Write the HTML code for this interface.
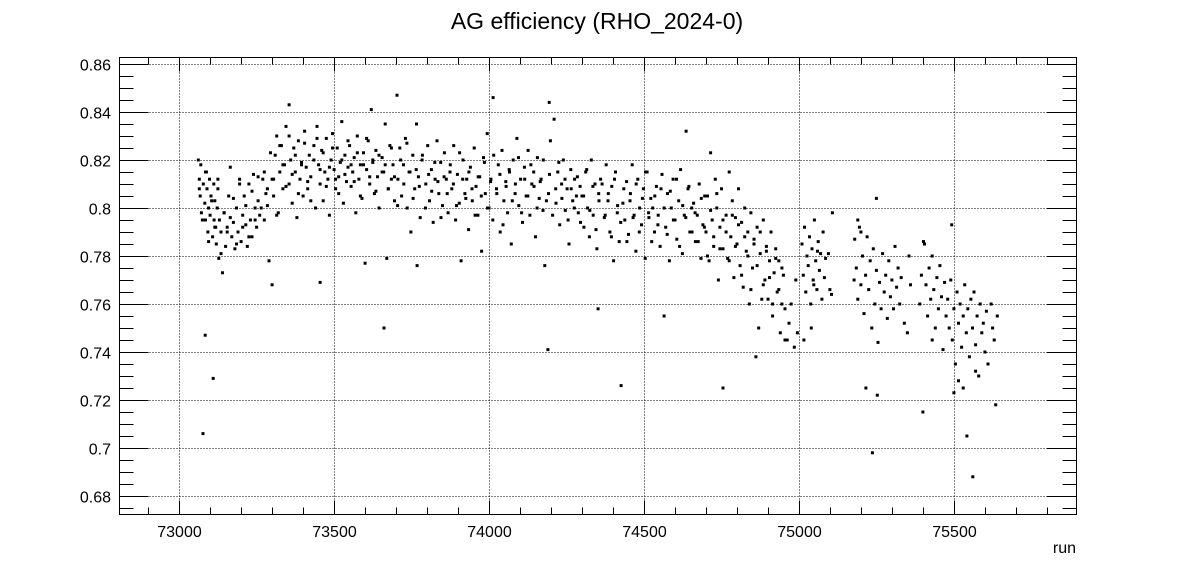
<!DOCTYPE html>
<html><head><meta charset="utf-8"><style>
html,body{margin:0;padding:0;background:#fff;}
svg{display:block;font-family:"Liberation Sans",Arial,sans-serif;}
</style></head><body>
<svg id="chart" width="1196" height="572" viewBox="0 0 1196 572">
<text x="597" y="29" font-size="23" text-anchor="middle">AG efficiency (RHO_2024-0)</text>
<g id="grid"></g>
<g id="points"></g>
<g id="axes"></g>
<rect x="119.5" y="57.5" width="957" height="457" fill="none" stroke="#000" stroke-width="1"/>
<text x="1076" y="553" font-size="16" text-anchor="end">run</text>
</svg>
<script>
const xTicks=[73000,73500,74000,74500,75000,75500];
const yTicks=[0.68,0.70,0.72,0.74,0.76,0.78,0.80,0.82,0.84,0.86];
const yTickLabels=["0.68","0.7","0.72","0.74","0.76","0.78","0.8","0.82","0.84","0.86"];
const runs=[
73062,73065,73068,73070,73072,73077,73078,73084,73083,73085,73088,73090,73093,73095,73098,73100,73103,73110,73108,73112,
73113,73115,73118,73120,73123,73125,73128,73130,73135,73140,73145,73150,73155,73160,73165,73170,73175,73180,73185,73190,
73195,73200,73205,73210,73215,73220,73225,73230,73235,73240,73245,73250,73255,73260,73300,73270,73275,73280,73285,73290,
73300,73305,73310,73315,73320,73325,73330,73335,73340,73345,73355,73355,73360,73365,73370,73375,73380,73385,73390,73395,
73400,73405,73410,73415,73420,73425,73455,73435,73440,73445,73450,73455,73460,73465,73470,73475,73480,73485,73490,73495,
73500,73505,73510,73515,73520,73525,73530,73535,73540,73545,73550,73555,73560,73565,73570,73575,73580,73585,73590,73595,
73600,73605,73610,73615,73620,73625,73630,73635,73640,73645,73661,73655,73660,73665,73670,73675,73680,73685,73690,73695,
73703,73706,73712,73718,73724,73730,73736,73742,73748,73754,73760,73766,73772,73778,73784,73768,73796,73802,73808,73814,
73820,73826,73832,73838,73844,73850,73856,73862,73868,73874,73880,73886,73892,73898,73904,73910,73916,73922,73928,73934,
73940,73946,73952,73958,73964,73970,73976,73982,73988,73994,74000,74006,74012,74013,74024,74030,74036,74042,74048,74054,
74060,74066,74072,74078,74084,74090,74096,74102,74108,74114,74120,74126,74132,74138,74144,74150,74156,74162,74168,74174,
74180,74190,74192,74198,74194,74210,74216,74222,74228,74234,74240,74246,74252,74258,74264,74270,74276,74282,74288,74294,
74300,74306,74312,74318,74324,74330,74336,74342,74348,74354,74360,74352,74372,74378,74384,74390,74396,74402,74408,74414,
74420,74426,74432,74438,74444,74450,74456,74462,74468,74474,74480,74486,74492,74498,74504,74510,74516,74522,74528,74534,
74540,74546,74552,74558,74565,74570,74576,74582,74588,74594,74600,74606,74612,74618,74624,74630,74636,74642,74648,74654,
74660,74666,74672,74678,74684,74690,74696,
74700,74705,74710,74715,74720,74725,74730,74735,74740,74745,74750,74755,74755,74765,74770,74775,74780,74785,74790,74795,
74800,74805,74810,74815,74820,74825,74830,74835,74840,74845,74850,74855,74861,74865,74870,74875,74880,74885,74890,74895,
74900,74905,74910,74915,74920,74925,74930,74935,74940,74945,74950,74955,
74962,74968,74975,74985,74990,74995,
75010,75014,75018,75022,75026,75030,75034,75038,75042,75046,75050,75054,75058,75062,75066,75070,75074,75078,75082,75086,
75016,75040,75060,75048,75095,75100,75105,75108,
75180,75185,75190,75195,75200,75205,75210,75215,75220,75225,75230,75235,75240,75245,75250,75255,75260,75265,75270,75275,
75280,75285,75290,75295,75300,75305,75310,75315,75320,75325,75330,75340,75350,75355,75360,75216,75237,75253,75250,75190,
75200,75178,
75390,75395,75400,75405,75410,75415,75420,75425,75430,75435,75440,75445,75450,75455,75460,75465,75470,75475,75402,75430,
75480,75485,75490,75495,75500,75505,75510,75515,75520,75525,75530,75535,75540,75545,75550,75555,75560,75565,75570,75575,
75580,75585,75590,75595,75600,75605,75610,75620,75625,75630,75635,75640,75542,75561,75500,75515,75530,75493,75570
];
const eff=[
.820,.812,.805,.818,.798,.706,.810,.747,.802,.795,.815,.808,.790,.800,.812,.797,.805,.729,.788,.810,
.795,.803,.792,.785,.800,.808,.779,.795,.790,.773,.798,.784,.792,.805,.817,.788,.794,.783,.800,.790,
.812,.786,.797,.805,.793,.784,.810,.795,.788,.814,.800,.792,.803,.797,.768,.812,.795,.806,.801,.778,
.812,.805,.822,.830,.798,.815,.826,.808,.818,.834,.843,.810,.820,.802,.825,.815,.796,.828,.812,.819,
.805,.832,.817,.808,.822,.813,.769,.826,.800,.834,.818,.810,.824,.803,.815,.829,.812,.797,.820,.831,
.816,.808,.825,.813,.819,.836,.802,.822,.811,.817,.826,.809,.815,.821,.798,.830,.812,.818,.804,.823,
.777,.816,.828,.810,.841,.819,.806,.824,.813,.800,.750,.821,.815,.835,.779,.808,.826,.812,.818,.803,
.847,.812,.825,.805,.818,.829,.800,.815,.790,.822,.808,.835,.813,.796,.820,.776,.810,.826,.803,.816,
.794,.812,.828,.806,.819,.801,.823,.812,.798,.815,.808,.826,.795,.814,.802,.778,.820,.806,.812,.791,
.817,.803,.825,.809,.797,.813,.782,.821,.806,.831,.800,.812,.795,.846,.808,.818,.790,.824,.803,.811,
.798,.815,.785,.820,.806,.829,.801,.812,.794,.817,.805,.824,.797,.810,.815,.788,.821,.804,.812,.799,
.776,.741,.806,.828,.844,.837,.802,.815,.793,.810,.820,.799,.808,.785,.816,.803,.812,.805,.798,.809,
.805,.792,.815,.800,.788,.820,.797,.810,.783,.806,.812,.758,.796,.818,.803,.790,.809,.778,.815,.798,
.786,.726,.802,.795,.811,.789,.806,.818,.797,.782,.812,.800,.793,.808,.779,.815,.796,.804,.800,.790,
.809,.797,.784,.814,.755,.792,.806,.778,.800,.812,.795,.787,.803,.816,.781,.797,.832,.808,.790,.800,
.802,.786,.797,.810,.779,.793,.805,
.790,.805,.778,.823,.795,.784,.812,.800,.770,.792,.808,.783,.725,.797,.779,.815,.788,.803,.771,.796,
.785,.808,.776,.794,.767,.800,.782,.790,.760,.798,.775,.787,.738,.792,.750,.781,.762,.795,.770,.784,
.762,.778,.790,.755,.773,.783,.765,.778,.748,.760,.772,.745,
.745,.752,.760,.742,.770,.748,
.785,.772,.792,.765,.780,.776,.788,.760,.783,.770,.795,.778,.766,.786,.774,.781,.762,.790,.771,.779,
.745,.750,.782,.768,.781,.766,.764,.798,
.787,.775,.762,.792,.768,.780,.756,.772,.788,.766,.778,.750,.783,.760,.774,.744,.769,.758,.781,.765,
.772,.754,.778,.763,.770,.758,.784,.767,.775,.760,.771,.752,.748,.780,.768,.725,.698,.722,.804,.795,
.790,.770,
.760,.772,.715,.785,.768,.755,.775,.762,.780,.766,.750,.771,.758,.776,.763,.741,.769,.755,.786,.745,
.762,.750,.770,.745,.758,.735,.765,.752,.760,.742,.755,.768,.748,.758,.738,.762,.750,.765,.743,.755,
.730,.760,.748,.752,.740,.757,.735,.760,.750,.745,.718,.755,.705,.688,.723,.728,.725,.793,.732
];
const runsB=[
73065,73075,73085,73095,73105,73115,73125,73135,73145,73155,
73165,73175,73185,73195,73205,73215,73225,73235,73245,73255,
73265,73275,73285,73295,73305,73315,73325,73335,73345,73355,
73365,73375,73385,73395,73405,73415,73425,73435,73445,73455,
73465,73475,73485,73495,73505,73515,73525,73535,73545,73555,
73565,73575,73585,73595,73605,73615,73625,73635,73645,73655,
73665,73675,73685,73695,73705,73715,73725,73735,73745,73755,
73765,73775,73785,73795,73805,73815,73825,73835,73845,73855,
73865,73875,73885,73895,73905,73915,73925,73935,73945,73955,
73965,73975,73985,73995,74005,74015,74025,74035,74045,74055,
74065,74075,74085,74095,74105,74115,74125,74135,74145,74155,
74165,74175,74185,74195,74205,74215,74225,74235,74245,74255,
74265,74275,74285,74295,74305,74315,74325,74335,74345,74355,
74365,74375,74385,74395,74405,74415,74425,74435,74445,74455,
74465,74475,74485,74495,74505,74515,74525,74535,74545,74555,
74565,74575,74585,74595,74605,74615,74625,74635,74645,74655,
74665,74675,74685,74695,74705,74715,74725,74735,74745,74755,
74765,74775,74785,74795,74805,74815,74825,74835,74845,74855,
74865,74875,74885,74895,74905,74915,74925,74935,74945,74955
];
const effB=[
.808,.795,.815,.786,.803,.792,.812,.781,.798,.790,
.796,.804,.785,.810,.792,.801,.788,.807,.795,.813,
.800,.815,.808,.823,.812,.797,.826,.818,.809,.830,
.814,.822,.806,.818,.827,.811,.803,.820,.829,.816,
.823,.809,.817,.825,.812,.806,.820,.814,.828,.818,
.811,.823,.805,.818,.829,.813,.820,.807,.822,.815,
.818,.808,.825,.813,.801,.820,.810,.827,.815,.804,
.816,.809,.822,.800,.814,.807,.819,.811,.796,.813,
.806,.818,.810,.801,.823,.812,.804,.815,.808,.797,
.813,.805,.819,.800,.811,.822,.806,.814,.793,.809,
.816,.803,.810,.821,.798,.812,.805,.818,.809,.800,
.811,.820,.803,.814,.797,.808,.819,.804,.812,.795,
.808,.800,.813,.794,.805,.816,.799,.809,.791,.803,
.810,.797,.806,.788,.812,.801,.794,.808,.786,.803,
.796,.810,.790,.804,.815,.798,.786,.805,.793,.808,
.800,.789,.807,.795,.812,.784,.801,.796,.809,.790,
.798,.786,.804,.792,.780,.799,.788,.806,.783,.795,
.790,.778,.797,.784,.793,.772,.788,.780,.766,.785,
.776,.790,.768,.782,.771,.760,.779,.766,.775,.758
];
const NS='http://www.w3.org/2000/svg';
const L=119.5,R=1076.5,T=57.5,B=514.5;
const xMin=72806,xMax=75894,yMin=0.6725,yMax=0.8629;
function X(v){return 119+(v-xMin)/(xMax-xMin)*957;}
function Y(v){return 514-(v-yMin)/(yMax-yMin)*457;}
function mk(tag,attrs,parent){const e=document.createElementNS(NS,tag);for(const k in attrs)e.setAttribute(k,attrs[k]);parent.appendChild(e);return e;}
const grid=document.getElementById('grid'),axes=document.getElementById('axes'),pts=document.getElementById('points');
xTicks.forEach((t)=>{const x=Math.round(X(t))+0.5;
 const g=mk('line',{x1:x,x2:x,y1:T,y2:B,stroke:'#000','stroke-dasharray':'1,2','stroke-width':1},grid);
 
 
 const lb=mk('text',{x:x,y:537,'font-size':16,'text-anchor':'middle'},axes);
 lb.textContent=String(t);
 
 
});
yTicks.forEach((t,i)=>{const y=Math.round(Y(t))+0.5;
 const g=mk('line',{x1:L,x2:R,y1:y,y2:y,stroke:'#000','stroke-dasharray':'1,2','stroke-width':1},grid);
 
 
 const lb=mk('text',{x:111,y:y+6,'font-size':16,'text-anchor':'end'},axes);
 lb.textContent=yTickLabels[i];
 
 
});
for(let v=72900;v<=75800;v+=100){const x=Math.round(X(v))+0.5;const major=v%500===0;const len=major?14:7;
 const a=mk('line',{x1:x,x2:x,y1:B,y2:B-len,stroke:'#000'},axes);
 
 
 const b=mk('line',{x1:x,x2:x,y1:T,y2:T+len,stroke:'#000'},axes);
 
 
}
for(let k=0;k<=38;k++){const v=0.675+k*0.005;if(v>yMax)break;const y=Math.round(Y(v))+0.5;const major=(k%4===1);const len=major?29:14;
 const a=mk('line',{x1:L,x2:L+len,y1:y,y2:y,stroke:'#000'},axes);
 
 
 const b=mk('line',{x1:R-len,x2:R,y1:y,y2:y,stroke:'#000'},axes);
 
 
}
function drawSeries(rs,es){
 const n=Math.min(rs.length,es.length);
 for(let i=0;i<n;i++){
  const p=mk('rect',{x:(X(rs[i])-1.5).toFixed(1),y:(Y(es[i])-1.5).toFixed(1),width:3,height:3,fill:'#000'},pts);
  
  
 }
}
drawSeries(runs,eff);
drawSeries(runsB,effB);
</script>
</body></html>
